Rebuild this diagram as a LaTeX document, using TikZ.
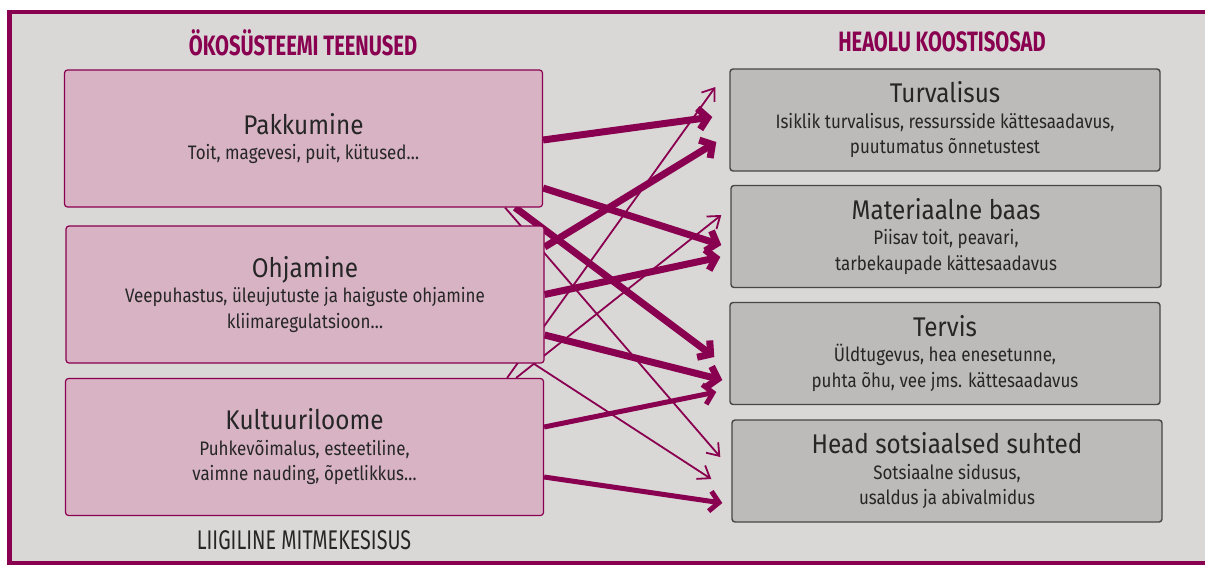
\documentclass[tikz,border=0pt]{standalone}
\usepackage{fontspec}
\setmainfont[FakeStretch=0.87]{Fira Sans}
\newfontfamily\titlefont[FakeStretch=0.9]{Fira Sans}
\newfontfamily\headfont[FakeStretch=0.72]{Fira Sans}
\newfontfamily\footfont[FakeStretch=0.73]{Fira Sans}
\usetikzlibrary{arrows.meta,calc}

\definecolor{plum}{HTML}{8A0050}
\definecolor{rose}{HTML}{D8B3C4}
\definecolor{paper}{HTML}{D9D8D6}
\definecolor{stone}{HTML}{BCBBB9}
\definecolor{ink}{HTML}{262626}

\pgfdeclarelayer{bg}
\pgfdeclarelayer{arw}
\pgfsetlayers{bg,arw,main}

\newcommand\ttl[1]{{\titlefont\fontsize{27}{27}\selectfont #1}}

\tikzset{
  svc/.style={draw=plum,fill=rose,line width=1.2pt,rounded corners=3pt,
    minimum width=478pt,minimum height=137pt,align=center,text=ink,inner sep=0pt,
    font=\fontsize{19.5}{25.5}\selectfont},
  comp/.style={draw=black!72,fill=stone,line width=1.4pt,rounded corners=3pt,
    minimum width=430pt,minimum height=102pt,align=center,text=ink,inner sep=0pt,
    font=\fontsize{19.5}{25.5}\selectfont},
  thk/.style={plum,line width=7pt,-{Straight Barb[length=9pt,width=21pt]}},
  mid/.style={plum,line width=5pt,-{Straight Barb[length=9pt,width=20pt]}},
  thn/.style={plum,line width=1.8pt,-{Straight Barb[length=11pt,width=16pt]}},
}

\begin{document}
\begin{tikzpicture}[x=1pt,y=-1pt]
  \useasboundingbox (0,0) rectangle (1205,565);
  \begin{pgfonlayer}{bg}
    \clip (0,0) rectangle (1205,565);
    \fill[white] (0,0) rectangle (1205,565);
    \draw[plum,line width=4.5pt,fill=paper] (9.5,12) rectangle (1240,563.5);
  \end{pgfonlayer}

  % column heads
  \node[text=plum,font=\headfont\fontsize{28}{28}\bfseries\selectfont] (hdl) at (303,43) {ÖKOSÜSTEEMI TEENUSED};
  \node[text=plum,font=\headfont\fontsize{28}{28}\bfseries\selectfont] (hdr) at (942,42) {HEAOLU KOOSTISOSAD};

  % services
  \node[svc] (pak) at (303.5,138.5) {\ttl{Pakkumine}\\Toit, magevesi, puit, kütused\dots};
  \node[svc] (ohj) at (305,294.5) {\ttl{Ohjamine}\\Veepuhastus, üleujutuste ja haiguste ohjamine\\kliimaregulatsioon\dots};
  \node[svc] (kul) at (304.5,447) {\ttl{Kultuuriloome}\\Puhkevõimalus, esteetiline,\\vaimne nauding, õpetlikkus\dots};
  \node[text=ink,font=\footfont\fontsize{27}{27}\selectfont] (lii) at (304,540) {LIIGILINE MITMEKESISUS};

  % components of well-being
  \node[comp] (tur) at (945,120) {\ttl{Turvalisus}\\Isiklik turvalisus, ressursside kättesaadavus,\\puutumatus õnnetustest};
  \node[comp] (mat) at (946,236.5) {\ttl{Materiaalne baas}\\Piisav toit, peavari,\\tarbekaupade kättesaadavus};
  \node[comp] (ter) at (945,353.5) {\ttl{Tervis}\\Üldtugevus, hea enesetunne,\\puhta õhu, vee jms. kättesaadavus};
  \node[comp] (hea) at (947,471) {\ttl{Head sotsiaalsed suhted}\\Sotsiaalne sidusus,\\usaldus ja abivalmidus};

  \begin{pgfonlayer}{arw}
    \draw[thn] ($(pak.south east)+(-38,0)$) -- ($(hea.west)+(-11,-14)$);
    \draw[thn] ($(ohj.south east)+(-11,0)$) -- ($(hea.west)+(-20,8)$);
    \draw[thn] ($(kul.north east)+(-37,0)$) -- ($(tur.west)+(-14,-33)$);
    \draw[thn] ($(kul.north east)+(-28,0)$) -- ($(mat.west)+(-9,-21.5)$);
    \draw[thk] ($(pak.east)+(0,1.5)$) -- ($(tur.west)+(-17,-3)$);
    \draw[thk] ($(pak.east)+(0,49.5)$) -- ($(mat.west)+(-9,8.5)$);
    \draw[thk] ($(pak.south east)+(-28,0)$) -- ($(ter.west)+(-15,3.5)$);
    \draw[thk] ($(ohj.east)+(0,-47.5)$) -- ($(tur.west)+(-13,22)$);
    \draw[thk] (ohj.east) -- ($(mat.west)+(-10,20.5)$);
    \draw[thk] ($(ohj.east)+(0,40.5)$) -- ($(ter.west)+(-7,26.5)$);
    \draw[mid] ($(kul.east)+(0,-20)$) -- ($(ter.west)+(-13,38.5)$);
    \draw[mid] ($(kul.east)+(0,30)$) -- ($(hea.west)+(-9,32)$);
  \end{pgfonlayer}
\end{tikzpicture}
\end{document}
